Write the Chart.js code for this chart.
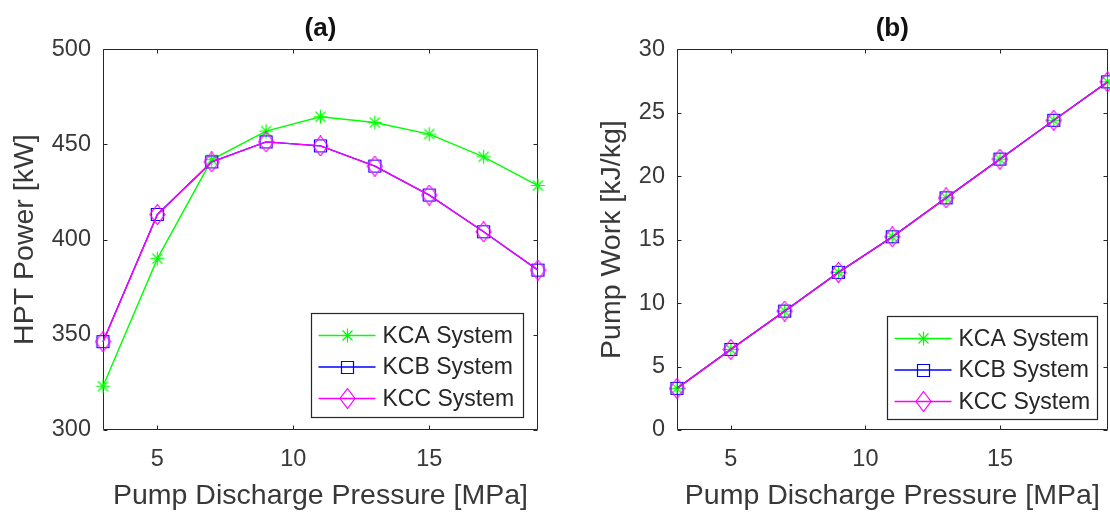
<!DOCTYPE html>
<html>
<head>
<meta charset="utf-8">
<script src="https://cdn.jsdelivr.net/npm/chart.js@4.4.1/dist/chart.umd.min.js"></script>
<style>
  html, body { margin: 0; padding: 0; background: #fff; }
  #wrap { position: relative; width: 1110px; height: 513px; overflow: hidden; }
  .panel { position: absolute; top: 0; height: 513px; }
</style>
</head>
<body>
<div id="wrap">
  <div class="panel" style="left:0; width:555px"><canvas id="chartA" width="555" height="513"></canvas></div>
  <div class="panel" style="left:555px; width:560px"><canvas id="chartB" width="560" height="513"></canvas></div>
</div>
<script>
// data
var pressure = [3, 5, 7, 9, 11, 13, 15, 17, 19];

var hptKCA = [323, 390, 442, 457, 464.5, 461.5, 455.4, 443.5, 428.4];
var hptKCB = [346.4, 413.2, 440.8, 451.3, 449.2, 438.6, 423.4, 404.1, 384];
var hptKCC = [346.4, 413.2, 440.8, 451.3, 449.2, 438.6, 423.4, 404.1, 384];

var pumpKCA = [3.28, 6.35, 9.37, 12.42, 15.22, 18.29, 21.34, 24.4, 27.43];
var pumpKCB = [3.28, 6.35, 9.37, 12.42, 15.22, 18.29, 21.34, 24.4, 27.43];
var pumpKCC = [3.28, 6.35, 9.37, 12.42, 15.22, 18.29, 21.34, 24.4, 27.43];

var seriesNames = ['KCA System', 'KCB System', 'KCC System'];
var xTickValues = [5, 10, 15];
var hptTickValues = [300, 350, 400, 450, 500];
var pumpTickValues = [0, 5, 10, 15, 20, 25, 30];

var FONT = '"Liberation Sans", Arial, sans-serif';
var TEXT = '#383838';
var AXIS = '#262626';

// MATLAB-like marker images
function makeMarker(kind, color) {
    var c = document.createElement('canvas');
    c.width = 17;
    c.height = 21;
    var g = c.getContext('2d');
    g.strokeStyle = color;
    g.lineWidth = 1.2;
    var cx = 8.5, cy = 10.5;
    g.beginPath();
    if (kind === 'star') {
        var r = 7;
        g.moveTo(cx - r, cy); g.lineTo(cx + r, cy);
        g.moveTo(cx, cy - r); g.lineTo(cx, cy + r);
        g.moveTo(cx - 5, cy - 5); g.lineTo(cx + 5, cy + 5);
        g.moveTo(cx - 5, cy + 5); g.lineTo(cx + 5, cy - 5);
    } else if (kind === 'square') {
        g.rect(cx - 6, cy - 6, 12, 12);
    } else {
        g.moveTo(cx, cy - 10);
        g.lineTo(cx + 7.5, cy);
        g.lineTo(cx, cy + 10);
        g.lineTo(cx - 7.5, cy);
        g.closePath();
    }
    g.stroke();
    return c;
}

var seriesColors = ['#00ff00', '#0000ff', '#ff00ff'];
var seriesMarkers = [
    makeMarker('star', '#00ff00'),
    makeMarker('square', '#0000ff'),
    makeMarker('diamond', '#ff00ff')
];

function toPoints(values) {
    return pressure.map(function (p, i) { return { x: p, y: values[i] }; });
}

function makeDataset(i, values) {
    return {
        label: seriesNames[i],
        data: toPoints(values),
        borderColor: seriesColors[i],
        backgroundColor: seriesColors[i],
        borderWidth: 1.4,
        pointStyle: seriesMarkers[i],
        pointRadius: 6,
        pointHoverRadius: 6,
        tension: 0,
        fill: false,
        clip: false,
        order: 2 - i
    };
}

// box, inward ticks and the in-plot legend
var matlabBox = {
    id: 'matlabBox',
    beforeDatasetsDraw: function (chart) {
        var ctx = chart.ctx;
        var a = chart.chartArea;
        var l = Math.round(a.left) + 0.5, r = Math.round(a.right) - 0.5;
        var t = Math.round(a.top) + 0.5, b = Math.round(a.bottom) - 0.5;
        var len = 4;
        ctx.save();
        ctx.strokeStyle = AXIS;
        ctx.lineWidth = 1;
        ctx.beginPath();
        ctx.rect(l, t, r - l, b - t);
        chart.scales.x.ticks.forEach(function (tk) {
            var x = Math.round(chart.scales.x.getPixelForValue(tk.value)) + 0.5;
            ctx.moveTo(x, b); ctx.lineTo(x, b - len);
            ctx.moveTo(x, t); ctx.lineTo(x, t + len);
        });
        chart.scales.y.ticks.forEach(function (tk) {
            var y = Math.round(chart.scales.y.getPixelForValue(tk.value)) + 0.5;
            ctx.moveTo(l, y); ctx.lineTo(l + len, y);
            ctx.moveTo(r, y); ctx.lineTo(r - len, y);
        });
        ctx.stroke();
        ctx.restore();
    },
    afterDatasetsDraw: function (chart, args, opts) {
        var ctx = chart.ctx;
        var a = chart.chartArea;
        var w = opts.width, h = opts.height;
        var bx = Math.round(a.right - opts.right - w) + 0.5;
        var by = Math.round(a.bottom - opts.bottom - h) + 0.5;
        ctx.save();
        ctx.fillStyle = '#ffffff';
        ctx.fillRect(bx, by, w, h);
        ctx.strokeStyle = AXIS;
        ctx.lineWidth = 1.2;
        ctx.strokeRect(bx, by, w, h);
        ctx.font = '23px ' + FONT;
        ctx.textBaseline = 'middle';
        ctx.textAlign = 'left';
        chart.data.datasets.forEach(function (ds, i) {
            var y = by + 22 + i * 31.5;
            ctx.strokeStyle = ds.borderColor;
            ctx.lineWidth = 1.4;
            ctx.beginPath();
            ctx.moveTo(bx + 7, y);
            ctx.lineTo(bx + 64, y);
            ctx.stroke();
            var m = ds.pointStyle;
            ctx.drawImage(m, Math.round(bx + 36 - m.width / 2), Math.round(y - m.height / 2));
            ctx.fillStyle = AXIS;
            ctx.fillText(ds.label, bx + 71, y + 1);
        });
        ctx.restore();
    }
};

function makeChart(canvasId, title, yTitle, datasets, yMin, yMax, yTicks, layout) {
    var canvas = document.getElementById(canvasId).getContext('2d');
    return new Chart(canvas, {
        type: 'line',
        data: { datasets: datasets },
        options: {
            responsive: false,
            animation: false,
            events: [],
            layout: { padding: { left: layout.padLeft, right: layout.padRight, top: 0, bottom: 0 } },
            plugins: {
                legend: { display: false },
                tooltip: { enabled: false },
                title: {
                    display: true,
                    text: title,
                    fullSize: false,
                    color: '#111111',
                    font: { family: FONT, size: 26, weight: 'bold' },
                    padding: { top: 13, bottom: 5 }
                },
                matlabBox: layout.legend
            },
            scales: {
                x: {
                    type: 'linear',
                    min: 3,
                    max: 19,
                    afterBuildTicks: function (s) {
                        s.ticks = xTickValues.map(function (v) { return { value: v }; });
                    },
                    afterFit: function (s) { s.height = 83; },
                    grid: { display: false, drawTicks: false },
                    border: { display: false },
                    ticks: { padding: 15, color: TEXT, font: { family: FONT, size: 23.5 } },
                    title: {
                        display: true,
                        text: 'Pump Discharge Pressure [MPa]',
                        color: TEXT,
                        font: { family: FONT, size: 28.5 },
                        padding: { top: 0, bottom: 0 }
                    }
                },
                y: {
                    type: 'linear',
                    min: yMin,
                    max: yMax,
                    afterBuildTicks: function (s) {
                        s.ticks = yTicks.map(function (v) { return { value: v }; });
                    },
                    afterFit: function (s) { s.width = layout.yWidth; },
                    grid: { display: false, drawTicks: false },
                    border: { display: false },
                    ticks: { padding: 12, color: TEXT, font: { family: FONT, size: 23.5 } },
                    title: {
                        display: true,
                        text: yTitle,
                        color: TEXT,
                        font: { family: FONT, size: 28.5 },
                        padding: { top: layout.yTitlePad, bottom: layout.yTitlePad }
                    }
                }
            }
        },
        plugins: [matlabBox]
    });
}

var chartA = makeChart('chartA', '(a)', 'HPT Power [kW]',
    [makeDataset(0, hptKCA), makeDataset(1, hptKCB), makeDataset(2, hptKCC)],
    300, 500, hptTickValues,
    { padLeft: 0, padRight: 17, yWidth: 103, yTitlePad: 8,
      legend: { width: 212, height: 104, right: 15, bottom: 13 } });

// canvas B runs past the page edge so the plot box reaches x = 1108 like the original
var chartB = makeChart('chartB', '(b)', 'Pump Work [kJ/kg]',
    [makeDataset(0, pumpKCA), makeDataset(1, pumpKCB), makeDataset(2, pumpKCC)],
    0, 30, pumpTickValues,
    { padLeft: 40, padRight: 7, yWidth: 82, yTitlePad: 0,
      legend: { width: 210, height: 103, right: 11, bottom: 11 } });
</script>
</body>
</html>
